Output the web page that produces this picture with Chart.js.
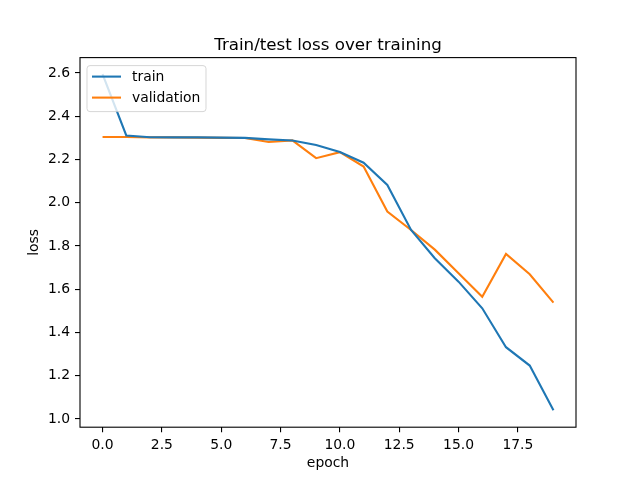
<!DOCTYPE html>
<html>
<head>
<meta charset="utf-8">
<script src="https://cdn.jsdelivr.net/npm/chart.js@4/dist/chart.umd.min.js"></script>
<style>
html,body{margin:0;padding:0;background:#fff;}
#c{display:block;}
</style>
</head>
<body>
<canvas id="c" width="640" height="480"></canvas>
<script>
const epochs = [0,1,2,3,4,5,6,7,8,9,10,11,12,13,14,15,16,17,18,19];
const trainLoss = [2.595,2.311,2.303,2.302,2.302,2.301,2.300,2.293,2.288,2.267,2.234,2.185,2.082,1.874,1.743,1.635,1.512,1.332,1.247,1.040];
const valLoss   = [2.304,2.304,2.302,2.302,2.301,2.300,2.299,2.281,2.288,2.206,2.234,2.167,1.959,1.874,1.783,1.674,1.565,1.763,1.669,1.538];
const xTicks = [0,2.5,5,7.5,10,12.5,15,17.5];
const yTicks = [1.0,1.2,1.4,1.6,1.8,2.0,2.2,2.4,2.6];
const seriesNames = ['train','validation'];
const chartTitle = 'Train/test loss over training';
const xLabel = 'epoch';
const yLabel = 'loss';

const FONT = 'DejaVu Sans';
const colors = ['#1f77b4','#ff7f0e'];

const framePlugin = {
  id: 'frame',
  afterDatasetsDraw(chart) {
    const {ctx, chartArea: a} = chart;
    ctx.save();
    ctx.strokeStyle = '#000';
    ctx.lineWidth = 1.1;
    ctx.strokeRect(a.left, a.top, a.right - a.left, a.bottom - a.top);
    const bx = a.left + 7, by = a.top + 8, bw = 119, bh = 46, r = 3;
    ctx.beginPath();
    ctx.moveTo(bx + r, by);
    ctx.lineTo(bx + bw - r, by);
    ctx.quadraticCurveTo(bx + bw, by, bx + bw, by + r);
    ctx.lineTo(bx + bw, by + bh - r);
    ctx.quadraticCurveTo(bx + bw, by + bh, bx + bw - r, by + bh);
    ctx.lineTo(bx + r, by + bh);
    ctx.quadraticCurveTo(bx, by + bh, bx, by + bh - r);
    ctx.lineTo(bx, by + r);
    ctx.quadraticCurveTo(bx, by, bx + r, by);
    ctx.closePath();
    ctx.fillStyle = 'rgba(255,255,255,0.8)';
    ctx.fill();
    ctx.strokeStyle = 'rgba(204,204,204,0.8)';
    ctx.lineWidth = 1;
    ctx.stroke();
    ctx.font = '13.9px "' + FONT + '"';
    ctx.textBaseline = 'middle';
    ctx.textAlign = 'left';
    seriesNames.forEach((name, i) => {
      const ly = by + 11 + i * 21;
      ctx.strokeStyle = colors[i];
      ctx.lineWidth = 2.1;
      ctx.beginPath();
      ctx.moveTo(bx + 5, ly);
      ctx.lineTo(bx + 34, ly);
      ctx.stroke();
      ctx.fillStyle = '#000';
      ctx.fillText(name, bx + 45, ly + 0.5);
    });
    ctx.font = '16.7px "' + FONT + '"';
    ctx.textAlign = 'center';
    ctx.textBaseline = 'alphabetic';
    ctx.fillStyle = '#000';
    ctx.fillText(chartTitle, (a.left + a.right) / 2, 50);
    ctx.restore();
  }
};

const datasets = [trainLoss, valLoss].map((arr, i) => ({
  label: seriesNames[i],
  data: epochs.map((e, j) => ({x: e, y: arr[j]})),
  borderColor: colors[i],
  backgroundColor: colors[i],
  borderWidth: 2.1,
  pointRadius: 0,
  tension: 0,
  fill: false
}));

new Chart(document.getElementById('c'), {
  type: 'line',
  data: { datasets },
  options: {
    responsive: false,
    animation: false,
    devicePixelRatio: 1,
    layout: { padding: { top: 57.6, right: 64, left: 0, bottom: 0 } },
    plugins: { legend: { display: false }, title: { display: false }, tooltip: { enabled: false } },
    scales: {
      x: {
        type: 'linear',
        min: -0.95,
        max: 19.95,
        afterBuildTicks: s => { s.ticks = xTicks.map(v => ({value: v})); },
        afterFit: s => { s.height = 52.8; },
        ticks: { callback: v => Number(v).toFixed(1), color: '#000', font: { family: FONT, size: 13.9 }, padding: 5, maxRotation: 0, autoSkip: false },
        grid: { display: true, drawOnChartArea: false, drawTicks: true, tickLength: 5, color: '#000', lineWidth: 1.1 },
        border: { display: false },
        title: { display: true, text: xLabel, color: '#000', font: { family: FONT, size: 13.9 }, padding: { top: 0, bottom: 8 } }
      },
      y: {
        type: 'linear',
        min: 0.962,
        max: 2.671,
        afterBuildTicks: s => { s.ticks = yTicks.map(v => ({value: v})); },
        afterFit: s => { s.width = 80; },
        ticks: { callback: v => Number(v).toFixed(1), color: '#000', font: { family: FONT, size: 13.9 }, padding: 5, autoSkip: false },
        grid: { display: true, drawOnChartArea: false, drawTicks: true, tickLength: 5, color: '#000', lineWidth: 1.1 },
        border: { display: false },
        title: { display: true, text: yLabel, color: '#000', font: { family: FONT, size: 13.9 }, padding: { top: 26, bottom: 0 } }
      }
    }
  },
  plugins: [framePlugin]
});
</script>
</body>
</html>
